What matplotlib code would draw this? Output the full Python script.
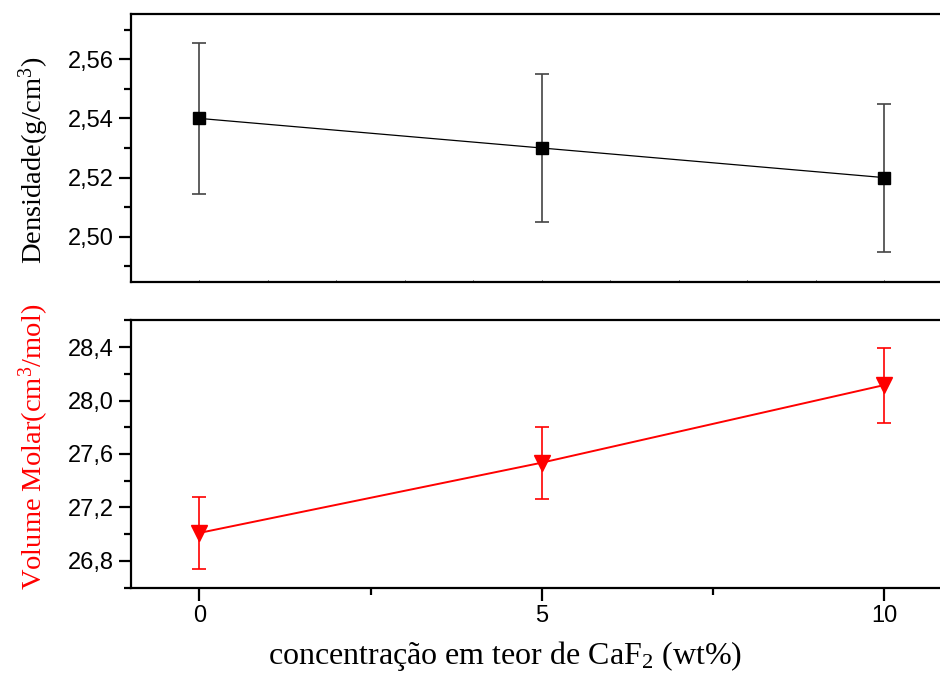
import matplotlib
matplotlib.use("Agg")
import matplotlib.pyplot as plt
from matplotlib.ticker import MultipleLocator, FuncFormatter

# data
caf2 = [0, 5, 10]
densidade = [2.54, 2.53, 2.52]
densidade_err = [0.0255, 0.025, 0.025]
volume_molar = [27.01, 27.535, 28.115]
volume_err = [0.27, 0.27, 0.28]

serif = "Liberation Serif"
sans = "Liberation Sans"

plt.rcParams["mathtext.fontset"] = "custom"
plt.rcParams["mathtext.rm"] = serif
plt.rcParams["mathtext.it"] = serif + ":italic"
plt.rcParams["mathtext.default"] = "rm"

fig = plt.figure(figsize=(9.4, 6.76), dpi=100)
W, H = 940, 676
left = 131 / W
width = (200 + 11 * 68.4 - 131) / W
ax1 = fig.add_axes([left, 1 - 282 / H, width, 268 / H])
ax2 = fig.add_axes([left, 1 - 588 / H, width, 268 / H])

comma = FuncFormatter(lambda v, p: f"{v:.2f}".replace(".", ","))
comma1 = FuncFormatter(lambda v, p: f"{v:.1f}".replace(".", ","))

# top panel: density
ax1.errorbar(caf2, densidade, yerr=densidade_err, color="black", lw=0.9,
             marker="s", ms=9, mfc="black", mec="black",
             ecolor="#444444", elinewidth=1.2, capsize=5, capthick=1.2)
ax1.set_xlim(-1, 11)
ax1.set_ylim(2.4847, 2.5753)
ax1.yaxis.set_major_locator(MultipleLocator(0.02))
ax1.yaxis.set_minor_locator(MultipleLocator(0.01))
ax1.yaxis.set_major_formatter(comma)
ax1.xaxis.set_major_locator(MultipleLocator(1))
ax1.tick_params(axis="x", direction="in", length=1.5, width=0.6, labelbottom=False)
ax1.tick_params(axis="y", which="major", direction="out", length=9, width=1.6)
ax1.tick_params(axis="y", which="minor", direction="out", length=5, width=1.6)
ax1.set_ylabel("Densidade(g/cm$^3$)", fontsize=20.5, family=serif)
ax1.yaxis.set_label_coords(-0.098, 0.455)

# bottom panel: molar volume
ax2.errorbar(caf2, volume_molar, yerr=volume_err, color="red", lw=1.4,
             marker="v", ms=12, mfc="red", mec="red",
             ecolor="red", elinewidth=1.2, capsize=5, capthick=1.2)
ax2.set_xlim(-1, 11)
ax2.set_ylim(26.598, 28.602)
ax2.yaxis.set_major_locator(MultipleLocator(0.4))
ax2.yaxis.set_minor_locator(MultipleLocator(0.2))
ax2.yaxis.set_major_formatter(comma1)
ax2.xaxis.set_major_locator(MultipleLocator(5))
ax2.xaxis.set_minor_locator(MultipleLocator(2.5))
ax2.tick_params(axis="both", which="major", direction="out", length=9, width=1.6)
ax2.tick_params(axis="both", which="minor", direction="out", length=5, width=1.6)
ax2.set_ylabel("Volume Molar(cm$^3$/mol)", fontsize=20.5, family=serif,
               color="red")
ax2.yaxis.set_label_coords(-0.098, 0.526)
ax2.set_xlabel("concentração em teor de CaF$_2$ (wt%)", fontsize=23,
               family=serif)
ax2.xaxis.set_label_coords(0.455, -0.19)

for ax in (ax1, ax2):
    for sp in ax.spines.values():
        sp.set_linewidth(1.6)
    for lab in ax.get_xticklabels() + ax.get_yticklabels():
        lab.set_fontfamily(sans)
        lab.set_fontsize(17)

fig.savefig("out.png", dpi=100)
